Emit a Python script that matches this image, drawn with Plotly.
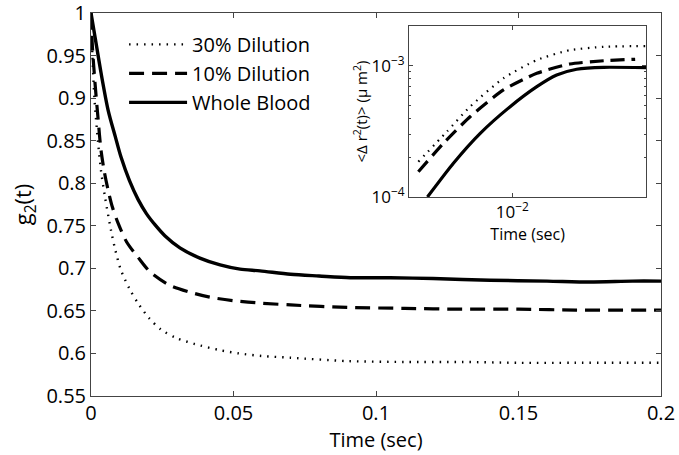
import plotly.graph_objects as go

# ---------------- main panel data: g2(t) vs time ----------------
t_whole = [0, 0.001, 0.002, 0.0035, 0.006, 0.0085, 0.0105, 0.0135, 0.0165, 0.0195,
           0.0225, 0.026, 0.0312, 0.0382, 0.0453, 0.0523, 0.0593, 0.07, 0.08, 0.091,
           0.105, 0.12, 0.14, 0.16, 0.175, 0.19, 0.2]
g_whole = [1.0, 0.980, 0.960, 0.930, 0.886, 0.855, 0.831, 0.803, 0.781, 0.764,
           0.751, 0.738, 0.724, 0.712, 0.704, 0.699, 0.697, 0.693, 0.691, 0.689,
           0.689, 0.688, 0.686, 0.685, 0.684, 0.685, 0.685]

t_d10 = [0, 0.0005, 0.0014, 0.0025, 0.0035, 0.0047, 0.006, 0.0075, 0.0095, 0.0125,
         0.0165, 0.0207, 0.0277, 0.0347, 0.0418, 0.05, 0.06, 0.07, 0.09, 0.11,
         0.13, 0.15, 0.17, 0.2]
g_d10 = [1.0, 0.96, 0.918, 0.875, 0.839, 0.813, 0.792, 0.772, 0.753, 0.731,
         0.713, 0.696, 0.680, 0.672, 0.666, 0.662, 0.659, 0.657, 0.654, 0.653,
         0.652, 0.652, 0.651, 0.651]

t_d30 = [0, 0.0005, 0.0012, 0.0025, 0.0035, 0.0049, 0.007, 0.0085, 0.0105, 0.0135,
         0.0165, 0.0205, 0.0246, 0.030, 0.0365, 0.045, 0.052, 0.06, 0.07, 0.09,
         0.11, 0.13, 0.15, 0.17, 0.2]
g_d30 = [1.0, 0.95, 0.90, 0.847, 0.815, 0.784, 0.745, 0.722, 0.698, 0.676,
         0.659, 0.641, 0.628, 0.618, 0.611, 0.604, 0.600, 0.597, 0.595, 0.591,
         0.590, 0.590, 0.589, 0.589, 0.589]

# ---------------- inset data: MSD vs time (log-log) ----------------
ti_whole = [0.00439, 0.00565, 0.00733, 0.00980, 0.0127, 0.0154, 0.0187, 0.0243, 0.0367]
msd_whole = [1.0e-4, 1.81e-4, 3.06e-4, 4.89e-4, 6.95e-4, 8.53e-4, 9.44e-4, 9.77e-4, 9.70e-4]

ti_d10 = [0.00402, 0.00513, 0.00664, 0.00918, 0.0127, 0.0175, 0.0243, 0.0330]
msd_d10 = [1.56e-4, 2.57e-4, 4.10e-4, 6.56e-4, 8.79e-4, 1.035e-3, 1.096e-3, 1.125e-3]

ti_d30 = [0.00402, 0.00530, 0.00664, 0.00918, 0.0127, 0.0175, 0.0243, 0.0367]
msd_d30 = [1.86e-4, 3.15e-4, 4.89e-4, 8.05e-4, 1.11e-3, 1.32e-3, 1.40e-3, 1.42e-3]

names = ["30% Dilution", "10% Dilution", "Whole Blood"]
x_ticks = [0, 0.05, 0.1, 0.15, 0.2]
x_ticktext = ["0", "0.05", "0.1", "0.15", "0.2"]
y_ticks = [0.55, 0.6, 0.65, 0.7, 0.75, 0.8, 0.85, 0.9, 0.95, 1.0]
y_ticktext = ["0.55", "0.6", "0.65", "0.7", "0.75", "0.8", "0.85", "0.9", "0.95", "1"]
inset_x_ticks = [0.01]
inset_x_ticktext = ["10<sup>\u22122</sup>"]
inset_y_ticks = [1e-4, 1e-3]
inset_y_ticktext = ["10<sup>\u22124</sup>", "10<sup>\u22123</sup>"]

FONT = "Open Sans"
AX = "#444444"

styles = [
    dict(color="black", width=2.4, dash="1.5px,6px"),
    dict(color="black", width=3.2, dash="15px,8px"),
    dict(color="black", width=3.4, dash="solid"),
]

fig = go.Figure()

main_sets = [(t_d30, g_d30), (t_d10, g_d10), (t_whole, g_whole)]
for i, (tx, gy) in enumerate(main_sets):
    fig.add_trace(go.Scatter(
        x=tx, y=gy, mode="lines", name=names[i],
        line=dict(**styles[i], shape="spline", smoothing=0.8),
        legendgroup=names[i], xaxis="x", yaxis="y"))

inset_sets = [(ti_d30, msd_d30), (ti_d10, msd_d10), (ti_whole, msd_whole)]
inset_styles = [
    dict(color="black", width=2.2, dash="1.5px,5.5px"),
    dict(color="black", width=3.2, dash="14px,7px"),
    dict(color="black", width=3.2, dash="solid"),
]
for i, (tx, my) in enumerate(inset_sets):
    fig.add_trace(go.Scatter(
        x=tx, y=my, mode="lines", name=names[i], showlegend=False,
        line=dict(**inset_styles[i], shape="spline", smoothing=0.6),
        xaxis="x2", yaxis="y2"))

fig.update_layout(
    width=679, height=455,
    margin=dict(l=91, r=18, t=13, b=59, autoexpand=False),
    paper_bgcolor="white", plot_bgcolor="white",
    font=dict(family=FONT, color="black", size=20),
    showlegend=True,
    legend=dict(x=0.058, y=0.969, xanchor="left", yanchor="top",
                bgcolor="rgba(0,0,0,0)", borderwidth=0,
                font=dict(family=FONT, size=20, color="black"),
                itemwidth=58, tracegroupgap=0, traceorder="grouped"),
    xaxis=dict(domain=[0, 1], range=[0, 0.2], tickvals=x_ticks, ticktext=x_ticktext,
               ticks="inside", ticklen=5, tickcolor=AX, showline=True, linecolor=AX,
               linewidth=1, mirror="ticks", showgrid=False, zeroline=False,
               automargin=False, ticklabeloverflow="allow", ticklabelstandoff=-1,
               tickfont=dict(size=20), title=dict(text="Time (sec)", font=dict(size=20), standoff=0)),
    yaxis=dict(domain=[0, 1], range=[0.55, 1.0], tickvals=y_ticks, ticktext=y_ticktext,
               ticks="inside", ticklen=5, tickcolor=AX, showline=True, linecolor=AX,
               linewidth=1, mirror="ticks", showgrid=False, zeroline=False,
               automargin=False, ticklabeloverflow="allow", ticklabelstandoff=0,
               tickfont=dict(size=20), title=dict(text="g<sub>2</sub>(t)", font=dict(size=22), standoff=8)),
    xaxis2=dict(domain=[0.558, 0.974], anchor="y2", type="log", range=[-2.435, -1.435],
                tickvals=inset_x_ticks, ticktext=inset_x_ticktext, ticks="inside", ticklen=4,
                tickcolor=AX, showline=True, linecolor=AX, linewidth=1, mirror="ticks",
                showgrid=False, zeroline=False, tickfont=dict(size=17),
                automargin=False, ticklabelstandoff=0,
                title=dict(text="Time (sec)", font=dict(size=16), standoff=0)),
    yaxis2=dict(domain=[0.5196, 0.966], anchor="x2", type="log", range=[-4, -2.695],
                tickvals=inset_y_ticks, ticktext=inset_y_ticktext, ticks="inside", ticklen=4,
                tickcolor=AX, showline=True, linecolor=AX, linewidth=1, mirror="ticks",
                showgrid=False, zeroline=False, tickfont=dict(size=17),
                automargin=False, ticklabeloverflow="allow",
                minor=dict(ticks="inside", ticklen=2, tickcolor=AX, dtick="D1"),
                title=dict(text="&lt;\u0394 r<sup>2</sup>(t)&gt; (\u03bc m<sup>2</sup>)",
                           font=dict(size=15), standoff=0)),
)

fig.write_html("out.html", config={"displayModeBar": False},
               post_script="document.body.style.margin='0';")
